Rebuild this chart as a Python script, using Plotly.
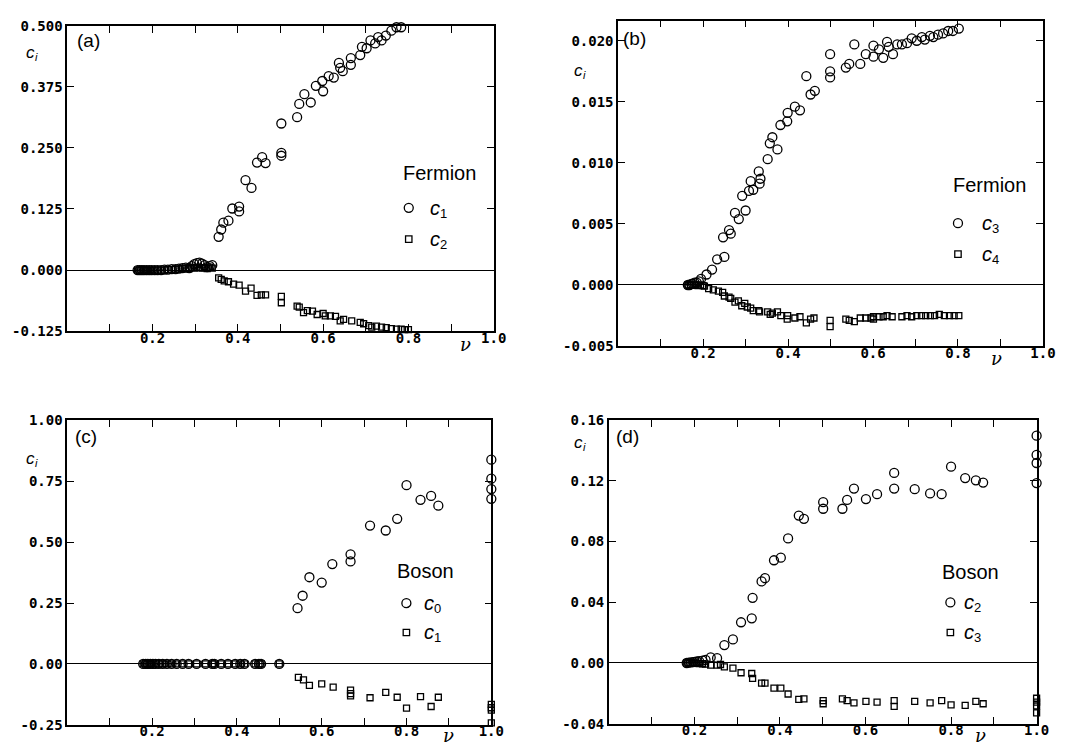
import plotly.graph_objects as go

W, H = 1066, 746

# ---------------- data ----------------
# (a) Fermion c1, c2
a_c1_x = [0.165, 0.170, 0.175, 0.180, 0.186, 0.192, 0.198, 0.205, 0.212, 0.220, 0.228, 0.236, 0.245, 0.254,
          0.262, 0.270, 0.278, 0.286, 0.292, 0.298, 0.304, 0.310, 0.316, 0.322, 0.328, 0.334, 0.340,
          0.355, 0.361, 0.366, 0.378, 0.387, 0.403, 0.403, 0.418, 0.432, 0.445, 0.457, 0.465,
          0.502, 0.502, 0.502, 0.539, 0.544, 0.556, 0.571, 0.583, 0.598, 0.600, 0.613, 0.625, 0.637, 0.640,
          0.646, 0.665, 0.665, 0.687, 0.691, 0.702, 0.711, 0.722, 0.729, 0.737, 0.747, 0.760, 0.772, 0.783,
          0.793, 0.799]
a_c1_y = [0, 0, 0, 0, 0, 0, 0, 0, 0, 0, 0.001, 0.001, 0.002, 0.002,
          0.003, 0.004, 0.005, 0.004, 0.008, 0.012, 0.014, 0.015, 0.013, 0.010, 0.006, 0.008, 0.010,
          0.068, 0.083, 0.097, 0.101, 0.126, 0.130, 0.120, 0.184, 0.168, 0.220, 0.231, 0.219,
          0.300, 0.240, 0.234, 0.313, 0.340, 0.360, 0.343, 0.377, 0.387, 0.366, 0.397, 0.394, 0.424, 0.414,
          0.407, 0.434, 0.420, 0.440, 0.457, 0.454, 0.470, 0.464, 0.477, 0.470, 0.480, 0.490, 0.497, 0.497,
          0.502, 0.504]
a_c2_x = [0.165, 0.170, 0.175, 0.180, 0.186, 0.192, 0.198, 0.205, 0.212, 0.220, 0.228, 0.236, 0.245, 0.254,
          0.262, 0.270, 0.278, 0.286, 0.292, 0.298, 0.304, 0.310, 0.316, 0.322, 0.328, 0.334, 0.340,
          0.355, 0.361, 0.368, 0.378, 0.390, 0.403, 0.418, 0.431, 0.445, 0.455, 0.465,
          0.502, 0.502, 0.539, 0.544, 0.554, 0.563, 0.575, 0.586, 0.600, 0.605, 0.617, 0.629, 0.640, 0.648,
          0.667, 0.687, 0.695, 0.707, 0.714, 0.725, 0.737, 0.748, 0.760, 0.772, 0.783, 0.791, 0.800]
a_c2_y = [0, 0, 0, 0, 0, 0, 0, 0, 0, 0, 0, 0.001, 0.001, 0.002,
          0.002, 0.003, 0.004, 0.003, 0.005, 0.004, 0.006, 0.005, 0.004, 0.005, 0.003, 0.006, 0.004,
          -0.016, -0.019, -0.022, -0.024, -0.029, -0.031, -0.043, -0.037, -0.052, -0.051, -0.051,
          -0.054, -0.067, -0.074, -0.076, -0.087, -0.083, -0.084, -0.091, -0.089, -0.094, -0.094, -0.095,
          -0.104, -0.101, -0.104, -0.107, -0.110, -0.114, -0.117, -0.115, -0.117, -0.118, -0.120, -0.121,
          -0.121, -0.122, -0.122]

# (b) Fermion c3, c4
b_c3_x = [0.164, 0.168, 0.172, 0.176, 0.180, 0.185, 0.190, 0.195, 0.208, 0.221, 0.233, 0.250, 0.247,
          0.261, 0.265, 0.275, 0.284, 0.292, 0.300, 0.308, 0.312, 0.318, 0.331, 0.333, 0.335, 0.352,
          0.357, 0.363, 0.375, 0.382, 0.398, 0.399, 0.416, 0.428, 0.443, 0.453, 0.463,
          0.499, 0.499, 0.499, 0.536, 0.544, 0.556, 0.570, 0.583, 0.601, 0.601, 0.614, 0.624, 0.633,
          0.637, 0.647, 0.657, 0.668, 0.680, 0.691, 0.703, 0.715, 0.722, 0.734, 0.742, 0.753, 0.765,
          0.777, 0.788, 0.802]
b_c3_y = [0.0000, 0.0000, 0.0001, 0.0001, 0.0002, 0.0002, 0.0003, 0.0005, 0.00086, 0.00126, 0.0021, 0.0023,
          0.0039, 0.0045, 0.0042, 0.0059, 0.0054, 0.0073, 0.0061, 0.0077, 0.0085, 0.0078, 0.0093, 0.0083,
          0.0087, 0.0103, 0.0116, 0.0121, 0.0111, 0.0131, 0.0134, 0.0141, 0.0146, 0.0143, 0.0171, 0.0156,
          0.0159,
          0.0189, 0.0175, 0.0170, 0.0178, 0.0181, 0.0197, 0.0181, 0.0189, 0.0196, 0.0187, 0.0193, 0.0186,
          0.0199, 0.0195, 0.0189, 0.0197, 0.0197, 0.0198, 0.0202, 0.0200, 0.0203, 0.0201, 0.0204, 0.0203,
          0.0205, 0.0206, 0.0208, 0.0208, 0.0210]
b_c4_x = [0.164, 0.170, 0.176, 0.182, 0.188, 0.194, 0.200, 0.203, 0.213, 0.224, 0.236, 0.246, 0.250,
          0.261, 0.265, 0.275, 0.283, 0.291, 0.298, 0.304, 0.312, 0.318, 0.331, 0.333, 0.352, 0.358,
          0.363, 0.375, 0.383, 0.398, 0.399, 0.416, 0.428, 0.443, 0.453, 0.461,
          0.499, 0.499, 0.536, 0.544, 0.556, 0.570, 0.583, 0.595, 0.601, 0.601, 0.614, 0.624, 0.633,
          0.645, 0.668, 0.680, 0.691, 0.703, 0.714, 0.724, 0.735, 0.745, 0.756, 0.768, 0.780, 0.791, 0.802]
b_c4_y = [0.0000, 0.0000, 0.0000, 0.0000, -0.00005, 0.0000, -0.00005, -0.0001, -0.0003, -0.0004, -0.0005,
          -0.0006, -0.0009, -0.0010, -0.0011, -0.0014, -0.0013, -0.0017, -0.0015, -0.0018, -0.0019, -0.0021,
          -0.0021, -0.0022, -0.0022, -0.0024, -0.0023, -0.0022, -0.0025, -0.0028, -0.0025, -0.0027, -0.0026,
          -0.0031, -0.0028, -0.0027,
          -0.0029, -0.0034, -0.0028, -0.0029, -0.0030, -0.0027, -0.0027, -0.0027, -0.0026, -0.0028, -0.0026,
          -0.0026, -0.0025, -0.0026, -0.0026, -0.0025, -0.0026, -0.0025, -0.0025, -0.0025, -0.0025, -0.0025,
          -0.0024, -0.0025, -0.0025, -0.0025, -0.0025]

# (c) Boson c0, c1
c_c0_x = [0.179, 0.185, 0.190, 0.196, 0.202, 0.208, 0.216, 0.225, 0.235, 0.246, 0.258, 0.272, 0.286,
          0.305, 0.326, 0.342, 0.347, 0.363, 0.379, 0.396, 0.408, 0.418, 0.443, 0.452, 0.457, 0.500,
          0.543, 0.555, 0.571, 0.600, 0.625, 0.668, 0.668, 0.714, 0.751, 0.778, 0.800, 0.833, 0.858,
          0.875, 1.0, 1.0, 1.0, 1.0]
c_c0_y = [0, 0, 0, 0, 0, 0, 0, 0, 0, 0, 0, 0, 0,
          0, 0, 0, 0, 0, 0, 0, 0, 0, 0, 0, 0, 0,
          0.229, 0.280, 0.356, 0.334, 0.410, 0.450, 0.421, 0.568, 0.548, 0.596, 0.734, 0.674, 0.690,
          0.650, 0.839, 0.761, 0.718, 0.678]
c_c1_x = [0.179, 0.185, 0.190, 0.196, 0.202, 0.208, 0.216, 0.225, 0.235, 0.246, 0.258, 0.272, 0.286,
          0.305, 0.326, 0.342, 0.347, 0.363, 0.379, 0.396, 0.408, 0.418, 0.443, 0.452, 0.457, 0.500,
          0.545, 0.557, 0.571, 0.600, 0.627, 0.668, 0.668, 0.668, 0.714, 0.751, 0.778, 0.800, 0.833,
          0.858, 0.875, 1.0, 1.0, 1.0, 1.0]
c_c1_y = [0, 0, 0, 0, 0, 0, 0, 0, 0, 0, 0, 0, 0,
          0, 0, 0, 0, 0, 0, 0, 0, 0, 0, 0, 0, 0,
          -0.055, -0.066, -0.088, -0.082, -0.095, -0.108, -0.122, -0.131, -0.139, -0.117, -0.137, -0.182,
          -0.134, -0.175, -0.137, -0.166, -0.180, -0.190, -0.242]

# (d) Boson c2, c3
d_c2_x = [0.182, 0.187, 0.192, 0.197, 0.201, 0.206, 0.211, 0.219, 0.226, 0.238, 0.253, 0.270, 0.290,
          0.309, 0.334, 0.336, 0.357, 0.365, 0.386, 0.402, 0.419, 0.444, 0.456,
          0.501, 0.501, 0.546, 0.557, 0.573, 0.601, 0.627, 0.667, 0.667, 0.715, 0.751, 0.778, 0.800,
          0.833, 0.858, 0.875, 1.0, 1.0, 1.0, 1.0]
d_c2_y = [0.0000, 0.0002, 0.0004, 0.0006, 0.0008, 0.0010, 0.0012, 0.0016, 0.0020, 0.0037, 0.0032, 0.0118,
          0.0155, 0.0268, 0.0294, 0.0429, 0.0537, 0.0558, 0.0676, 0.0693, 0.0820, 0.0970, 0.0949,
          0.1058, 0.1015, 0.1015, 0.1073, 0.1148, 0.1079, 0.1111, 0.1251, 0.1148, 0.1144, 0.1116, 0.1111,
          0.1292, 0.1217, 0.1202, 0.1187, 0.1496, 0.1369, 0.1316, 0.1184]
d_c3_x = [0.182, 0.187, 0.192, 0.197, 0.201, 0.206, 0.211, 0.219, 0.226, 0.238, 0.253, 0.261, 0.270,
          0.290, 0.309, 0.334, 0.336, 0.357, 0.365, 0.386, 0.402, 0.419, 0.444, 0.456,
          0.501, 0.501, 0.546, 0.557, 0.573, 0.601, 0.627, 0.667, 0.667, 0.715, 0.751, 0.778, 0.800,
          0.833, 0.858, 0.875, 1.0, 1.0, 1.0, 1.0]
d_c3_y = [0.0000, 0.0000, 0.0000, -0.0002, 0.0000, -0.0003, -0.0004, -0.0005, -0.0008, -0.0014, -0.0014,
          -0.0010, -0.0026, -0.0034, -0.0064, -0.0069, -0.0101, -0.0133, -0.0133, -0.0165, -0.0165, -0.0204,
          -0.0240, -0.0236,
          -0.0247, -0.0268, -0.0236, -0.0247, -0.0262, -0.0253, -0.0257, -0.0247, -0.0285, -0.0253, -0.0262,
          -0.0247, -0.0275, -0.0279, -0.0253, -0.0268, -0.0232, -0.0257, -0.0283, -0.0328]

# ticks
x_tick_vals = [0.2, 0.4, 0.6, 0.8, 1.0]
x_tick_text = ["0.2", "0.4", "0.6", "0.8", "1.0"]
x_minor_step = 0.1
a_y_vals = [-0.125, 0.0, 0.125, 0.25, 0.375, 0.5]
a_y_text = ["-0.125", "0.000", "0.125", "0.250", "0.375", "0.500"]
b_y_vals = [-0.005, 0.0, 0.005, 0.010, 0.015, 0.020]
b_y_text = ["-0.005", "0.000", "0.005", "0.010", "0.015", "0.020"]
c_y_vals = [-0.25, 0.0, 0.25, 0.5, 0.75, 1.0]
c_y_text = ["-0.25", "0.00", "0.25", "0.50", "0.75", "1.00"]
d_y_vals = [-0.04, 0.0, 0.04, 0.08, 0.12, 0.16]
d_y_text = ["-0.04", "0.00", "0.04", "0.08", "0.12", "0.16"]

# legend texts
legend_titles = ["Fermion", "Fermion", "Boson", "Boson"]
legend_subs = [["1", "2"], ["3", "4"], ["0", "1"], ["2", "3"]]

# ---------------- layout helpers ----------------
def px(x):
    return x / W

def py(y):
    return 1 - y / H

TICKFONT = dict(family="DejaVu Sans Mono", size=14, color="black", weight="bold")

def xax(x0, x1, anchor):
    return dict(domain=[px(x0), px(x1)], range=[0, 1], tickmode="array", tickvals=x_tick_vals,
                ticktext=x_tick_text, ticks="inside", ticklen=7, tickwidth=1.4, tickcolor="black",
                minor=dict(tick0=0, dtick=x_minor_step, ticks="inside", ticklen=7, tickwidth=1.4,
                           tickcolor="black", showgrid=False),
                ticklabelstandoff=-7,
                showline=True, linecolor="black", linewidth=1.6, mirror="ticks", showgrid=False,
                zeroline=False, tickfont=TICKFONT, anchor=anchor)

def yax(y0, y1, rng, vals, text, anchor):
    return dict(domain=[py(y1), py(y0)], range=rng, tickmode="array", tickvals=vals, ticktext=text,
                ticks="inside", ticklen=7, tickwidth=1.4, tickcolor="black", showline=True,
                linecolor="black", linewidth=1.6, mirror="ticks", showgrid=False, zeroline=True,
                zerolinecolor="black", zerolinewidth=1.4, tickfont=TICKFONT, anchor=anchor)

panels = {
    "a": dict(box=(60, 491.7, 10, 322), rng=[-0.125, 0.5], vals=a_y_vals, text=a_y_text),
    "b": dict(box=(617.7, 1047.7, 4.7, 337.3), rng=[-0.005, 0.02165], vals=b_y_vals, text=b_y_text),
    "c": dict(box=(60, 489.3, 413.3, 724.3), rng=[-0.25, 1.0], vals=c_y_vals, text=c_y_text),
    "d": dict(box=(608.3, 1041.3, 412.7, 723.3), rng=[-0.04, 0.16], vals=d_y_vals, text=d_y_text),
}

fig = go.Figure()
layout = dict(width=W, height=H, margin=dict(l=0, r=0, t=0, b=0), paper_bgcolor="white",
              plot_bgcolor="white", showlegend=False)

series = {
    "a": [(a_c1_x, a_c1_y, "circle-open", 9), (a_c2_x, a_c2_y, "square-open", 6)],
    "b": [(b_c3_x, b_c3_y, "circle-open", 9), (b_c4_x, b_c4_y, "square-open", 6)],
    "c": [(c_c0_x, c_c0_y, "circle-open", 9), (c_c1_x, c_c1_y, "square-open", 6)],
    "d": [(d_c2_x, d_c2_y, "circle-open", 9), (d_c3_x, d_c3_y, "square-open", 6)],
}

for i, key in enumerate(["a", "b", "c", "d"]):
    n = "" if i == 0 else str(i + 1)
    p = panels[key]
    x0, x1, y0, y1 = p["box"]
    layout["xaxis" + n] = xax(x0, x1, "y" + n)
    layout["yaxis" + n] = yax(y0, y1, p["rng"], p["vals"], p["text"], "x" + n)
    for xs, ys, sym, size in series[key]:
        fig.add_trace(go.Scatter(x=xs, y=ys, mode="markers", xaxis="x" + n, yaxis="y" + n,
                                 cliponaxis=False,
                                 marker=dict(symbol=sym, size=size, color="black",
                                             line=dict(width=1.3, color="black"))))

# ---------------- annotations ----------------
ann = []
shapes = []

def text(xp, yp, s, size, family="Liberation Sans", anchor="left", italic=False):
    ann.append(dict(x=px(xp), y=py(yp), xref="paper", yref="paper", text=s, showarrow=False,
                    xanchor=anchor, yanchor="middle",
                    font=dict(family=family, size=size, color="black",
                              style="italic" if italic else "normal")))

def csub(xp, yp, sub, size, subsize, sub_italic=False):
    text(xp, yp, "c", size, italic=True)
    text(xp + size * 0.52, yp + size * 0.27, sub, subsize, italic=sub_italic)

def key(xp, yp, kind):
    r = 4.5 if kind == "circle" else 3.2
    shapes.append(dict(type="circle" if kind == "circle" else "rect", xref="paper", yref="paper",
                       xsizemode="pixel", ysizemode="pixel", xanchor=px(xp), yanchor=py(yp),
                       x0=-r, x1=r, y0=-r, y1=r, line=dict(color="black", width=1.3)))

# panel labels
text(68, 25, "(a)", 19)
text(621, 23, "(b)", 19)
text(66, 430, "(c)", 19)
text(613, 430, "(d)", 19)

# y labels c_i
for (cx, cy) in [(16, 37), (571, 56), (16, 452), (571, 436)]:
    csub(cx, cy, "i", 17, 11, sub_italic=True)

# nu labels
for (nx, ny) in [(463, 336), (1001, 350), (446, 735), (985, 735)]:
    text(nx, ny, "ν", 18, family="DejaVu Serif", anchor="center", italic=True)

# legends: (title pos, symbol x, item ys, text x)
legend_pos = [
    ((398, 160), 405.7, (196, 228), 425),
    ((955, 173), 961.7, (211.7, 243.3), 984),
    ((392, 567), 403.3, (600, 630), 419),
    ((944, 568), 954, (599.3, 630), 966),
]
for title, subs, (tpos, sx, ys, tx) in zip(legend_titles, legend_subs, legend_pos):
    text(tpos[0], tpos[1], title, 20)
    key(sx, ys[0], "circle")
    key(sx, ys[1], "square")
    csub(tx, ys[0], subs[0], 20, 13)
    csub(tx, ys[1], subs[1], 20, 13)

layout["annotations"] = ann
layout["shapes"] = shapes
fig.update_layout(**layout)
fig.write_html("out.html")
